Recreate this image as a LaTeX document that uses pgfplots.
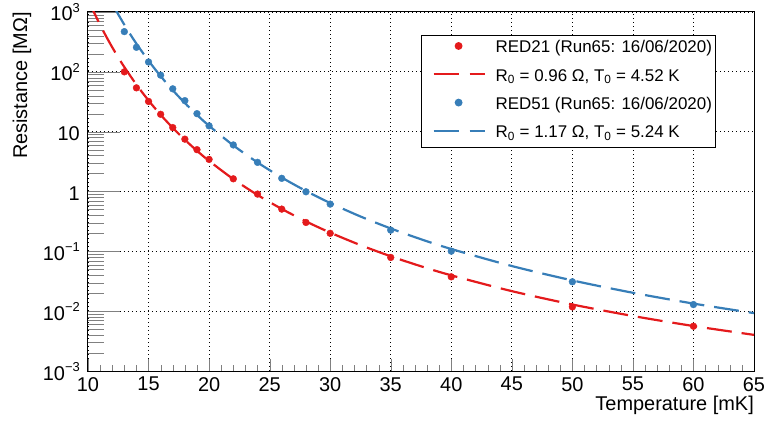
\documentclass[border=0pt]{standalone}
\usepackage{fontspec}
\setmainfont{Liberation Sans}
\usepackage{pgfplots}
\pgfplotsset{compat=1.18}
\definecolor{cred}{RGB}{228,26,28}
\definecolor{cblue}{RGB}{55,126,184}
\newcommand{\tp}[1]{10\raisebox{0.42em}{\fontsize{13}{13}\selectfont #1}}
\begin{document}
\begin{tikzpicture}
% x axis: short ticks, vertical grid, tick labels, title
\begin{axis}[
  scale only axis, width=666bp, height=359bp, at={(0,0)}, anchor=south west,
  xmin=10, xmax=65, ymin=0, ymax=1,
  xtick={10,15,...,65}, minor x tick num=4, ytick=\empty,
  tick pos=left, tick align=inside,
  major tick length=12bp, minor tick length=6bp,
  xmajorgrids=true,
  major grid style={black, line width=0.8bp, dash pattern=on 0.9bp off 3.1bp},
  axis line style={black, line width=1bp},
  /pgf/number format/assume math mode=true,
  tick label style={font=\fontsize{20}{24}\selectfont},
  xticklabel style={anchor=north, inner sep=0pt, yshift=-6bp},
  xlabel={Temperature [mK]},
  label style={font=\fontsize{20}{24}\selectfont},
  xlabel style={at={(axis description cs:1,0)}, anchor=base east, yshift=-39bp, inner sep=0pt},
]
\end{axis}
% main axis: log y, long ticks, data
\begin{axis}[
  scale only axis, width=666bp, height=359bp, at={(0,0)}, anchor=south west,
  xmin=10, xmax=65, ymode=log, ymin=1e-3, ymax=1e3,
  xtick=\empty,
  ytick={1e-3,1e-2,1e-1,1,10,100,1000}, yminorticks=true,
  yticklabels={\tp{−3},\tp{−2},\tp{−1},1,10,\tp{2},\tp{3}},
  tick pos=left, tick align=inside,
  major tick length=32bp, minor tick length=16bp,
  axis line style={black, line width=1bp},
  ymajorgrids=true,
  major grid style={black, line width=0.8bp, dash pattern=on 0.9bp off 3.1bp},
  tick label style={font=\fontsize{20}{24}\selectfont},
  yticklabel style={anchor=base east, inner sep=0pt, xshift=-8bp, yshift=-9bp},
  ylabel={Resistance [MΩ]},
  label style={font=\fontsize{20}{24}\selectfont},
  ylabel style={at={(axis description cs:-0.099,1)}, anchor=east, inner sep=0pt},
  legend style={at={(axis description cs:0.5,0.936)}, anchor=north west,
    font=\fontsize{17}{20}\selectfont, draw=black, line width=1bp,
    inner xsep=4bp, inner ysep=5.5bp, row sep=12.3bp, column sep=10bp,
    nodes={inner sep=0pt, text height=12bp, text depth=4bp}},
  legend cell align=left,
]
\addplot[only marks, mark=*, mark size=3.4bp, color=cred,
  legend image code/.code={\path (0bp,0bp) (58bp,0bp); \draw[only marks] plot coordinates {(32bp,3bp)};}]
coordinates {(13,100) (14,54) (15,32) (16,19.5) (17,11.7) (18,7.5) (19,5.0) (20,3.44) (22,1.63) (24,0.905) (26,0.508) (28,0.304) (30,0.2) (35,0.079) (40,0.0375) (50,0.0118) (60,0.0056)};
\addlegendentry{RED21 (Run65: 16/06/2020)}
\addplot[color=cred, line width=2.2bp, no marks, smooth, dash pattern=on 25bp off 10bp,
  legend image code/.code={\path (0bp,0bp); \draw[line width=2.2bp, dash pattern=on 25bp off 11bp] (7bp,3bp) -- (58bp,3bp);}]
coordinates {(10,1642.5) (10.5,984.0) (11,610.7) (11.5,391.1) (12,257.6) (12.5,174.1) (13,120.3) (14,61.06) (15,33.20) (16,19.13) (17,11.58) (18,7.317) (19,4.794) (20,3.245) (22,1.612) (24,0.8756) (26,0.5111) (28,0.3164) (30,0.2056) (32.5,0.12704) (35,0.08272) (37.5,0.05627) (40,0.03971) (45,0.02162) (50,0.012927) (55,0.008305) (60,0.005646) (65,0.004017)};
\addlegendentry{R\textsubscript{0} = 0.96 Ω, T\textsubscript{0} = 4.52 K}
\addplot[only marks, mark=*, mark size=3.4bp, color=cblue,
  legend image code/.code={\path (0bp,0bp) (58bp,0bp); \draw[only marks] plot coordinates {(32bp,3bp)};}]
coordinates {(13,470) (14,257) (15,146) (16,88) (17,52) (18,33) (19,20) (20,12.5) (22,6.0) (24,3.07) (26,1.66) (28,0.99) (30,0.616) (35,0.226) (40,0.1007) (50,0.031) (60,0.0129)};
\addlegendentry{RED51 (Run65: 16/06/2020)}
\addplot[color=cblue, line width=2.2bp, no marks, smooth, dash pattern=on 25bp off 10bp,
  legend image code/.code={\path (0bp,0bp); \draw[line width=2.2bp, dash pattern=on 25bp off 11bp] (7bp,3bp) -- (58bp,3bp);}]
coordinates {(12,1391.4) (12.5,912.2) (13,612.96) (13.5,421.2) (14,295.3) (15,153.2) (16,84.65) (17,49.31) (18,30.07) (19,19.08) (20,12.53) (22,5.898) (24,3.0575) (26,1.7124) (28,1.0217) (30,0.6425) (32.5,0.3826) (35,0.2411) (37.5,0.15920) (40,0.10937) (45,0.05683) (50,0.03267) (55,0.02029) (60,0.013389) (65,0.009280)};
\addlegendentry{R\textsubscript{0} = 1.17 Ω, T\textsubscript{0} = 5.24 K}
\end{axis}
\path (-88bp,-50bp) rectangle (678bp,371bp);
\end{tikzpicture}
\end{document}
